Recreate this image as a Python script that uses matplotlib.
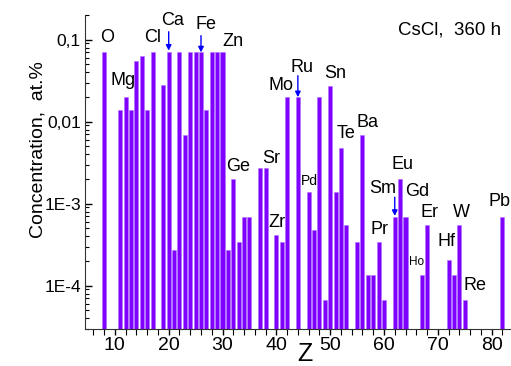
import numpy as np
import matplotlib
matplotlib.use('Agg')
from matplotlib import pyplot as plt

# atomic number of the detected elements
z = [8, 11, 12, 13, 14, 15, 16, 17, 19, 20, 21, 22, 23, 24, 25, 26, 27, 28,
     29, 30, 31, 32, 33, 34, 35, 37, 38, 40, 41, 42, 44, 46, 47, 48, 49, 50,
     51, 52, 53, 55, 56, 57, 58, 59, 60, 62, 63, 64, 67, 68, 72, 73, 74, 75, 82]
# concentration, at.%
conc = [0.07, 0.014, 0.02, 0.014, 0.055, 0.063, 0.014, 0.07, 0.028, 0.07,
        2.75e-4, 0.07, 0.0069, 0.07, 0.07, 0.07, 0.014, 0.07, 0.07, 0.07,
        2.75e-4, 0.002, 3.4e-4, 6.8e-4, 6.8e-4, 2.7e-3, 2.7e-3, 4.1e-4, 3.4e-4,
        0.02, 0.02, 1.38e-3, 4.8e-4, 0.02, 6.7e-5, 0.0275, 1.38e-3, 4.8e-3,
        5.5e-4, 3.4e-4, 0.0069, 1.36e-4, 1.36e-4, 3.4e-4, 6.7e-5, 6.8e-4,
        0.002, 6.8e-4, 1.36e-4, 5.5e-4, 2.06e-4, 1.36e-4, 5.5e-4, 6.7e-5, 6.8e-4]

yticks = [1e-4, 1e-3, 1e-2, 1e-1]
yticklabels = ['1E-4', '1E-3', '0,01', '0,1']

# element labels: (text, Z position, conc position, size)
labels = [('O', 8.5, 0.105, 13), ('Mg', 11.5, 0.0316, 13), ('Cl', 17.0, 0.105, 13),
          ('Ca', 20.7, 0.171, 13), ('Fe', 27.0, 0.155, 13), ('Zn', 32.0, 0.0945, 13),
          ('Ge', 32.9, 0.00286, 13), ('Sr', 39.1, 0.00358, 13), ('Mo', 40.8, 0.028, 13),
          ('Ru', 44.7, 0.046, 13), ('Sn', 50.9, 0.0382, 13), ('Te', 53.0, 0.00708, 13),
          ('Ba', 56.9, 0.00985, 13), ('Eu', 63.5, 0.00297, 13), ('Zr', 40.2, 5.9e-4, 13),
          ('Pd', 46.2, 1.88e-3, 10), ('Sm', 59.8, 1.55e-3, 13), ('Gd', 66.1, 1.4e-3, 13),
          ('Pr', 59.1, 4.9e-4, 13), ('Er', 68.5, 7.85e-4, 13), ('W', 74.4, 7.85e-4, 13),
          ('Hf', 71.6, 3.48e-4, 13), ('Ho', 66.1, 1.93e-4, 8.5), ('Re', 77.0, 1.0e-4, 13),
          ('Pb', 81.5, 1.06e-3, 13)]
# blue arrows: (Z, from, to)
arrows = [(20, 0.125, 0.0735), (26, 0.112, 0.07), (44, 0.0364, 0.0199), (62, 1.2e-3, 7.1e-4)]

plt.rcParams['font.family'] = ['Liberation Sans', 'DejaVu Sans']

fig = plt.figure(figsize=(5.11, 3.66), dpi=100)
ax = fig.add_axes([85 / 511, 1 - 328.6 / 366, 1 - 85 / 511, (328.6 - 15) / 366])

ax.bar(z, conc, width=0.75, color='#8000ff', edgecolor='#b070ff', linewidth=0.4)
ax.set_yscale('log')
ax.set_ylim(3e-5, 0.2)
ax.set_xlim(4.45, 83.6)

ax.set_yticks(yticks)
ax.set_yticklabels(yticklabels)
ax.set_xticks([10, 20, 30, 40, 50, 60, 70, 80])
ax.set_xticks(np.arange(6, 84, 2), minor=True)
ax.tick_params(axis='y', which='both', direction='in', labelsize=12.5, pad=3)
ax.tick_params(axis='y', which='major', length=5, width=1)
ax.tick_params(axis='y', which='minor', length=3, width=0.8)
ax.tick_params(axis='x', which='both', direction='out', labelsize=14, pad=2)
ax.tick_params(axis='x', which='major', length=4, width=1)
ax.tick_params(axis='x', which='minor', length=4, width=0.8)
ax.spines['top'].set_visible(False)
ax.spines['right'].set_visible(False)
for s in ['left', 'bottom']:
    ax.spines[s].set_color('#333333')

for txt, x, y, fs in labels:
    ax.text(x, y, txt, fontsize=fs, ha='center', va='center', clip_on=False)

for x, y0, y1 in arrows:
    ax.annotate('', xy=(x, y1), xytext=(x, y0),
                arrowprops=dict(arrowstyle='-|>', color='#0000ff', lw=1.0,
                                mutation_scale=8, shrinkA=0, shrinkB=0))

fig.text(450 / 511, 1 - 30 / 366, 'CsCl,  360 h', fontsize=13.5, ha='center', va='center')
fig.text(305 / 511, 1 - 354 / 366, 'Z', fontsize=18, ha='center', va='center')
fig.text(38 / 511, 1 - 150 / 366, 'Concentration,  at.%', fontsize=14, rotation=90,
         ha='center', va='center')

plt.savefig('out.png', dpi=100)
